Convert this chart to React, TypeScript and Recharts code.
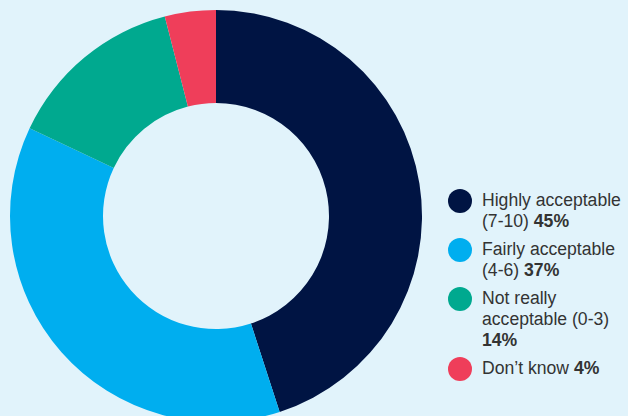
import { PieChart, Pie, Cell, Legend } from 'recharts';

const categories = ['Highly acceptable', 'Fairly acceptable', 'Not really acceptable', "Don’t know"];
const shares = [45, 37, 14, 4];
const colors = ['#001443', '#00aeef', '#00a98f', '#ef3e5a'];

const data = categories.map((name, i) => ({ name, value: shares[i] }));

// legend lines are broken by hand, like the original
const legendLines: string[][] = [
  ['Highly acceptable', '(7-10) '],
  ['Fairly acceptable', '(4-6) '],
  ['Not really', 'acceptable (0-3)', ''],
  ['Don’t know '],
];

function ChartLegend() {
  return (
    <div style={{ fontFamily: '"Liberation Sans", Arial, sans-serif', fontSize: 17.6, color: '#333', lineHeight: '21px' }}>
      {data.map((d, i) => {
        const lines = legendLines[i];
        return (
          <div key={d.name} style={{ display: 'flex', alignItems: 'flex-start', marginBottom: 7 }}>
            <span
              style={{
                width: 24,
                height: 24,
                borderRadius: '50%',
                backgroundColor: colors[i],
                flexShrink: 0,
                marginTop: -1,
                marginRight: 10,
              }}
            />
            <div>
              {lines.map((l, j) => (
                <div key={j}>
                  {l}
                  {j === lines.length - 1 && <b>{shares[i]}%</b>}
                </div>
              ))}
            </div>
          </div>
        );
      })}
    </div>
  );
}

export default function App() {
  return (
    <div style={{ position: 'absolute', left: 0, top: 0, width: 628, height: 416, background: '#e1f3fb', overflow: 'hidden' }}>
      <PieChart width={628} height={416} margin={{ top: 0, right: 0, bottom: 0, left: 0 }}>
        <Pie
          data={data}
          dataKey="value"
          cx={216}
          cy={216}
          innerRadius={113}
          outerRadius={206}
          startAngle={90}
          endAngle={-270}
          stroke="none"
          isAnimationActive={false}
        >
          {data.map((d, i) => (
            <Cell key={d.name} fill={colors[i]} />
          ))}
        </Pie>
        <Legend
          content={<ChartLegend />}
          wrapperStyle={{ position: 'absolute', left: 448, top: 190, width: 180 }}
        />
      </PieChart>
    </div>
  );
}
